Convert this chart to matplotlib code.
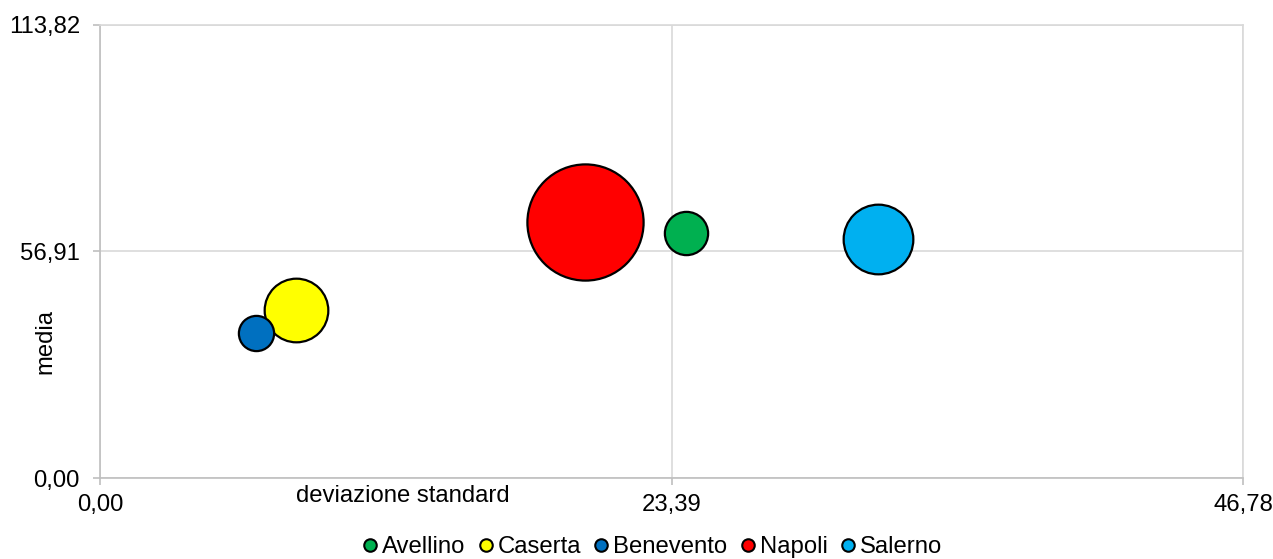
import matplotlib
matplotlib.use("Agg")
import matplotlib.pyplot as plt
from matplotlib.lines import Line2D
import numpy as np

plt.rcParams['font.family'] = ['Liberation Sans', 'DejaVu Sans']

# Data
provinces = ["Avellino", "Caserta", "Benevento", "Napoli", "Salerno"]
dev_std = [23.98, 8.03, 6.38, 19.83, 31.85]
media = [61.4, 42.1, 36.5, 64.2, 59.9]
population = [423506, 916467, 280707, 3054956, 1098513]
colors = ["#00B050", "#FFFF00", "#0070C0", "#FF0000", "#00B0F0"]

x_ticks = [0.0, 23.39, 46.78]
x_ticklabels = ["0,00", "23,39", "46,78"]
y_ticks = [0.0, 56.91, 113.82]
y_ticklabels = ["0,00", "56,91", "113,82"]

FS = 17.2
fig = plt.figure(figsize=(12.73, 5.59), dpi=100)
ax = fig.add_axes([100/1273, 81/559, 1143/1273, 453.5/559])

k = 7000.0 / max(population)
sizes = [p * k for p in population]
for x, y, s, c in zip(dev_std, media, sizes, colors):
    ax.scatter([x], [y], s=s, c=c, edgecolors="black", linewidths=1.6, zorder=3)

ax.set_xlim(x_ticks[0], x_ticks[-1])
ax.set_ylim(y_ticks[0], y_ticks[-1])
ax.set_xticks(x_ticks)
ax.set_xticklabels(x_ticklabels)
ax.set_yticks(y_ticks)
ax.set_yticklabels(y_ticklabels)
ax.grid(True, color="#D9D9D9", linewidth=1.2, zorder=0)
ax.set_axisbelow(True)
for side in ["top", "right"]:
    ax.spines[side].set_color("#D9D9D9")
    ax.spines[side].set_linewidth(1.2)
for side in ["left", "bottom"]:
    ax.spines[side].set_color("#BFBFBF")
    ax.spines[side].set_linewidth(1.2)
ax.tick_params(axis="both", direction="out", length=5, width=1.2, color="#BFBFBF",
               labelsize=FS)
ax.tick_params(axis="x", pad=6.5)
ax.tick_params(axis="y", pad=9.4)

fig.text(403/1273, 1 - 502/559, "deviazione standard", ha="center", va="baseline", fontsize=FS)
fig.text(45/1273, 1 - 342/559, "media", ha="center", va="center", rotation=90, fontsize=FS)

handles = [Line2D([0], [0], marker="o", linestyle="none", markerfacecolor=c,
                  markeredgecolor="black", markeredgewidth=1.5, markersize=9)
           for c in colors]
fig.legend(handles, provinces, loc="center", bbox_to_anchor=(650/1273, 1 - 547/559),
           ncol=5, frameon=False, fontsize=FS, handletextpad=0.0, columnspacing=0.35,
           handlelength=1.0, borderaxespad=0)

fig.savefig("out.png", dpi=100)
